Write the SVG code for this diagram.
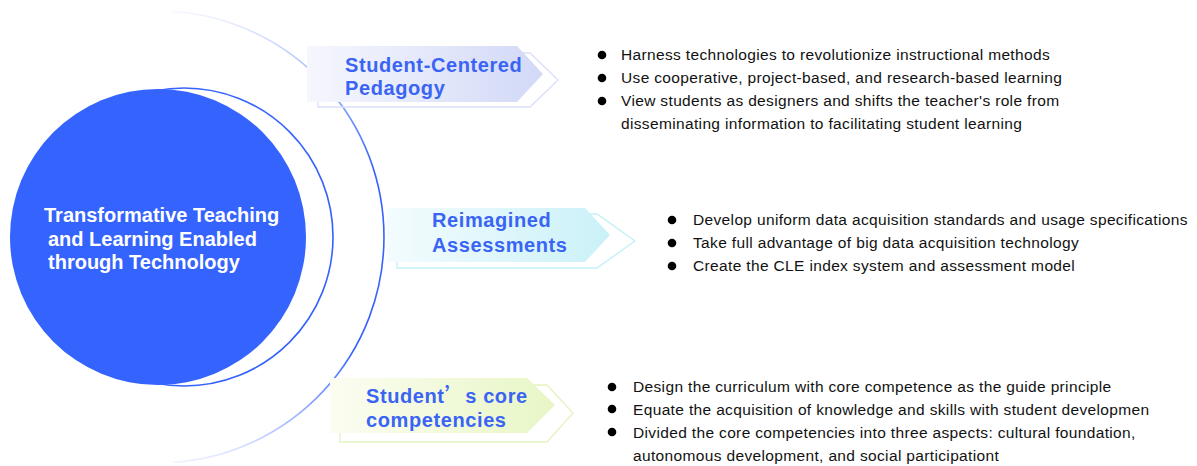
<svg xmlns="http://www.w3.org/2000/svg" width="1197" height="466" viewBox="0 0 1197 466">
<style>
.hub{font-family:"Liberation Sans",Arial,sans-serif;font-weight:bold;font-size:20px;fill:#ffffff}
.ttl{font-family:"Liberation Sans",Arial,sans-serif;font-weight:bold;font-size:20px;fill:#3a64f4;letter-spacing:0.6px}
.txt{font-family:"Liberation Sans",Arial,sans-serif;font-size:15.5px;fill:#111111;letter-spacing:0.35px}
.dot{fill:#000000}
</style>
<defs>
<linearGradient id="arcg" gradientUnits="userSpaceOnUse" x1="0" y1="11" x2="0" y2="463">
<stop offset="0" stop-color="#3563fd" stop-opacity="0.05"/>
<stop offset="0.35" stop-color="#3563fd" stop-opacity="1"/>
<stop offset="0.75" stop-color="#3563fd" stop-opacity="1"/>
<stop offset="1" stop-color="#3563fd" stop-opacity="0.08"/>
</linearGradient>
<linearGradient id="g1" x1="0" y1="0" x2="1" y2="0">
<stop offset="0" stop-color="#f6f7fd"/>
<stop offset="1" stop-color="#d2d9f7"/>
</linearGradient>
<linearGradient id="g2" x1="0" y1="0" x2="1" y2="0">
<stop offset="0" stop-color="#f3fcfe"/>
<stop offset="1" stop-color="#caf1f8"/>
</linearGradient>
<linearGradient id="g3" x1="0" y1="0" x2="1" y2="0">
<stop offset="0" stop-color="#fbfdf1"/>
<stop offset="1" stop-color="#e8f6c6"/>
</linearGradient>
</defs>

<g id="connectors">
<path d="M173,11.5 A226,226 0 0 1 173,462.5" fill="none" stroke="url(#arcg)" stroke-width="1.6"/>
</g>

<g id="hub">
<circle cx="184" cy="237" r="149" fill="none" stroke="#3563fd" stroke-width="1.6"/>
<circle cx="158" cy="237" r="148" fill="#3563fd"/>
<text class="hub" x="44" y="222">Transformative Teaching</text>
<text class="hub" x="48" y="246">and Learning Enabled</text>
<text class="hub" x="48" y="269">through Technology</text>
</g>

<g id="pedagogy">
<polygon points="318,53 530,53 558,80 530,107 318,107" fill="none" stroke="#d9dffa" stroke-width="1.3"/>
<polygon points="307,46 517,46 543,74 517,102 307,102" fill="url(#g1)"/>
<text class="ttl" x="345" y="72">Student-Centered</text>
<text class="ttl" x="345" y="95">Pedagogy</text>
<circle class="dot" cx="602" cy="55" r="4.3"/>
<circle class="dot" cx="602" cy="78" r="4.3"/>
<circle class="dot" cx="602" cy="101" r="4.3"/>
<text class="txt" x="621" y="60">Harness technologies to revolutionize instructional methods</text>
<text class="txt" x="621" y="83">Use cooperative, project-based, and research-based learning</text>
<text class="txt" x="621" y="106">View students as designers and shifts the teacher's role from</text>
<text class="txt" x="621" y="129">disseminating information to facilitating student learning</text>
</g>

<g id="assessments">
<polygon points="397,214 597,214 635,241 597,268 397,268" fill="none" stroke="#c3eff7" stroke-width="1.3"/>
<polygon points="387,208 585,208 610,235 585,262 387,262" fill="url(#g2)"/>
<text class="ttl" x="432" y="227">Reimagined</text>
<text class="ttl" x="432" y="252">Assessments</text>
<circle class="dot" cx="672" cy="220" r="4.3"/>
<circle class="dot" cx="672" cy="243" r="4.3"/>
<circle class="dot" cx="672" cy="266" r="4.3"/>
<text class="txt" x="693" y="225">Develop uniform data acquisition standards and usage specifications</text>
<text class="txt" x="693" y="248">Take full advantage of big data acquisition technology</text>
<text class="txt" x="693" y="271">Create the CLE index system and assessment model</text>
</g>

<g id="competencies">
<polygon points="340,385 547,385 573,413 547,442 340,442" fill="none" stroke="#e4f3bf" stroke-width="1.3"/>
<polygon points="330,378 527,378 555,405 527,433 330,433" fill="url(#g3)"/>
<text class="ttl" x="366" y="403">Student<tspan font-family="'Noto Sans CJK SC',sans-serif">’</tspan>s core</text>
<text class="ttl" x="366" y="427">competencies</text>
<circle class="dot" cx="612" cy="387" r="4.3"/>
<circle class="dot" cx="612" cy="409" r="4.3"/>
<circle class="dot" cx="612" cy="432" r="4.3"/>
<text class="txt" x="633" y="392">Design the curriculum with core competence as the guide principle</text>
<text class="txt" x="633" y="415">Equate the acquisition of knowledge and skills with student developmen</text>
<text class="txt" x="633" y="438">Divided the core competencies into three aspects: cultural foundation,</text>
<text class="txt" x="633" y="461">autonomous development, and social participationt</text>
</g>
</svg>
